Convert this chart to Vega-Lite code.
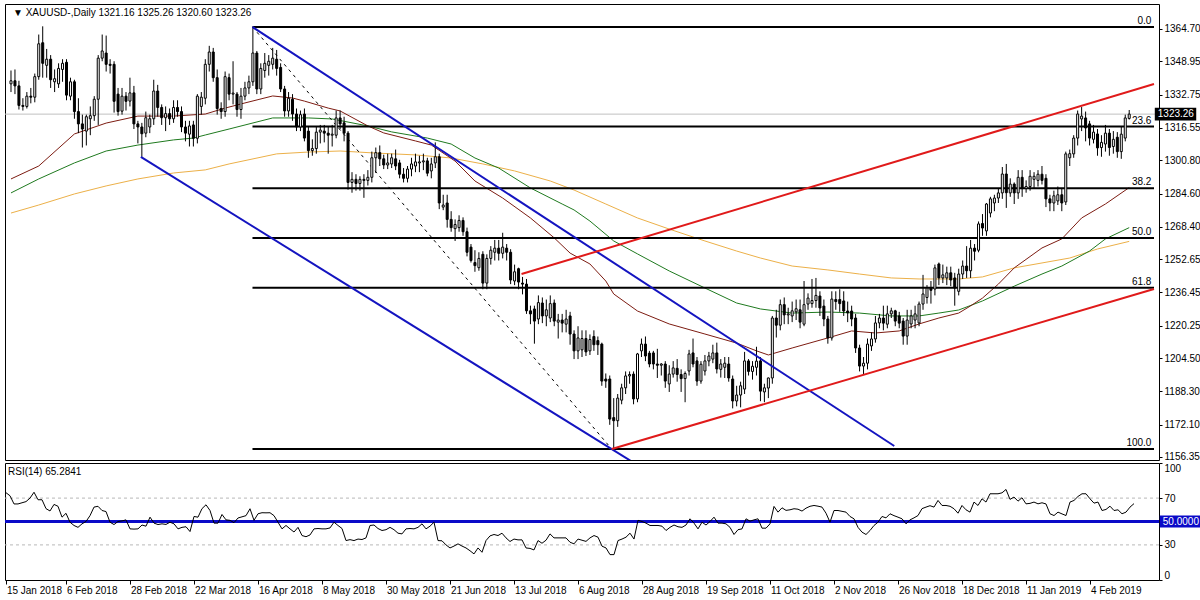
{
"$schema":"https://vega.github.io/schema/vega-lite/v6.json",
"padding":{"left":3,"top":3,"right":0,"bottom":0},
"background":"white",
"spacing":3,
"bounds":"flush",
"resolve":{"scale":{"x":"independent","y":"independent"}},
"config":{"view":{"stroke":"black","strokeWidth":1},"axis":{"labelFont":"Liberation Sans","labelFontSize":10,"labelColor":"black","tickColor":"black","domain":false,"grid":false,"labelOverlap":false},"text":{"font":"Liberation Sans","fontSize":10,"color":"black"}},
"datasets":{
"px":[
{"d":"2018-01-15","o":1338,"h":1344.5,"l":1334,"c":1339.5,"r":74.6,"sma50":1291.7,"sma100":1284.9,"sma200":1275.1},
{"d":"2018-01-16","o":1339.5,"h":1345,"l":1333,"c":1337,"r":72},
{"d":"2018-01-17","o":1337,"h":1339.5,"l":1325.5,"c":1327.5,"r":65},
{"d":"2018-01-18","o":1327.5,"h":1331,"l":1325,"c":1327,"r":65},
{"d":"2018-01-19","o":1327,"h":1334,"l":1326,"c":1332,"r":66},
{"d":"2018-01-22","o":1332,"h":1336,"l":1328.5,"c":1331.5,"r":67},
{"d":"2018-01-23","o":1331.5,"h":1343,"l":1329,"c":1341.5,"r":70},
{"d":"2018-01-24","o":1341.5,"h":1362,"l":1340,"c":1357.5,"r":75,"sma50":1298,"sma100":1291.7,"sma200":1279},
{"d":"2018-01-25","o":1358,"h":1366,"l":1341,"c":1348,"r":68.6},
{"d":"2018-01-26","o":1347,"h":1355,"l":1341,"c":1350,"r":68.6},
{"d":"2018-01-29","o":1350,"h":1352,"l":1336,"c":1340,"r":61},
{"d":"2018-01-30","o":1339,"h":1345,"l":1334,"c":1340.5,"r":59},
{"d":"2018-01-31","o":1338,"h":1348,"l":1336,"c":1345.5,"r":64.6},
{"d":"2018-02-01","o":1345,"h":1350,"l":1339,"c":1348,"r":63},
{"d":"2018-02-02","o":1348.5,"h":1350,"l":1330,"c":1332.5,"r":53.7},
{"d":"2018-02-05","o":1332,"h":1341,"l":1330,"c":1339,"r":57},
{"d":"2018-02-06","o":1339,"h":1340,"l":1321,"c":1324.5,"r":49.4,"sma50":1313.6,"sma100":1299.5,"sma200":1284.4},
{"d":"2018-02-07","o":1324.5,"h":1331,"l":1314,"c":1318.5,"r":46.6},
{"d":"2018-02-08","o":1318.5,"h":1323,"l":1307,"c":1316,"r":45},
{"d":"2018-02-09","o":1315,"h":1323,"l":1308,"c":1322,"r":48},
{"d":"2018-02-12","o":1321,"h":1327,"l":1313,"c":1322.5,"r":50},
{"d":"2018-02-13","o":1322.5,"h":1332,"l":1320,"c":1330.5,"r":55},
{"d":"2018-02-14","o":1330.5,"h":1352,"l":1318,"c":1350.5,"r":62.3},
{"d":"2018-02-15","o":1350.5,"h":1362,"l":1349,"c":1354,"r":63},
{"d":"2018-02-16","o":1353,"h":1361.5,"l":1344,"c":1347.5,"r":59.4,"sma50":1318.9,"sma100":1305.3,"sma200":1288.3},
{"d":"2018-02-19","o":1347.5,"h":1350,"l":1343,"c":1347,"r":58.5},
{"d":"2018-02-20","o":1347.5,"h":1349,"l":1324,"c":1329.5,"r":49.4},
{"d":"2018-02-21","o":1333,"h":1336,"l":1322.5,"c":1324.5,"r":47.4},
{"d":"2018-02-22","o":1324.7,"h":1336,"l":1323,"c":1332,"r":50},
{"d":"2018-02-23","o":1332,"h":1334,"l":1325,"c":1329.5,"r":50.5},
{"d":"2018-02-26","o":1329.6,"h":1341,"l":1327,"c":1333.6,"r":51.4},
{"d":"2018-02-27","o":1333.6,"h":1337,"l":1316,"c":1318.5,"r":43.7},
{"d":"2018-02-28","o":1318.5,"h":1320,"l":1309,"c":1317,"r":43.5,"sma50":1322.3,"sma100":1308.2,"sma200":1291.7},
{"d":"2018-03-01","o":1317,"h":1319,"l":1302.5,"c":1313.7,"r":43.7},
{"d":"2018-03-02","o":1314,"h":1324.5,"l":1312,"c":1321.5,"r":47},
{"d":"2018-03-05","o":1317,"h":1323,"l":1314,"c":1321,"r":46},
{"d":"2018-03-06","o":1321,"h":1340,"l":1318,"c":1334.5,"r":53.7},
{"d":"2018-03-07","o":1334.5,"h":1337.5,"l":1322,"c":1326.5,"r":48.6},
{"d":"2018-03-08","o":1326.5,"h":1328,"l":1318,"c":1321.5,"r":47.4},
{"d":"2018-03-09","o":1321.5,"h":1327,"l":1315,"c":1323.5,"r":48},
{"d":"2018-03-12","o":1323.5,"h":1326,"l":1318,"c":1321,"r":47.5},
{"d":"2018-03-13","o":1321,"h":1330,"l":1319,"c":1326.5,"r":49.4,"sma50":1322.3,"sma100":1310.7,"sma200":1294.6},
{"d":"2018-03-14","o":1326.5,"h":1330,"l":1322,"c":1324.5,"r":48},
{"d":"2018-03-15","o":1324.5,"h":1327,"l":1314.5,"c":1317,"r":43.7},
{"d":"2018-03-16","o":1317,"h":1320,"l":1310,"c":1314,"r":45},
{"d":"2018-03-19","o":1313.5,"h":1320,"l":1307.5,"c":1317.5,"r":45.5},
{"d":"2018-03-20","o":1318,"h":1320,"l":1307.5,"c":1311.5,"r":41.4,"sma100":1311.6},
{"d":"2018-03-21","o":1311.5,"h":1333,"l":1309,"c":1332,"r":54.3},
{"d":"2018-03-22","o":1327,"h":1334,"l":1323,"c":1331.5,"r":53.7},
{"d":"2018-03-23","o":1331,"h":1350,"l":1328,"c":1347.5,"r":61,"sma50":1323.3,"sma100":1313.1,"sma200":1296.1},
{"d":"2018-03-26","o":1347.5,"h":1356.5,"l":1344,"c":1353.5,"r":64.3},
{"d":"2018-03-27","o":1353.5,"h":1355.5,"l":1339,"c":1341,"r":59.4},
{"d":"2018-03-28","o":1341,"h":1345,"l":1323,"c":1326,"r":48.6},
{"d":"2018-03-29","o":1326,"h":1329,"l":1321,"c":1324.5,"r":48.6},
{"d":"2018-04-02","o":1324.5,"h":1344,"l":1322,"c":1341.5,"r":56,"sma50":1326.2},
{"d":"2018-04-03","o":1341,"h":1343,"l":1330,"c":1333,"r":51.4,"sma100":1316,"sma200":1299},
{"d":"2018-04-04","o":1333,"h":1349,"l":1328,"c":1333.5,"r":51},
{"d":"2018-04-05","o":1333,"h":1334,"l":1322,"c":1325.5,"r":49},
{"d":"2018-04-06","o":1325.5,"h":1336,"l":1321,"c":1332,"r":53},
{"d":"2018-04-09","o":1332,"h":1339,"l":1330,"c":1336,"r":54,"sma50":1328.7},
{"d":"2018-04-10","o":1336,"h":1342,"l":1333,"c":1339,"r":55},
{"d":"2018-04-11","o":1339,"h":1365.5,"l":1337,"c":1353,"r":60.9},
{"d":"2018-04-12","o":1353,"h":1354,"l":1333,"c":1335.5,"r":51},
{"d":"2018-04-13","o":1335.5,"h":1348,"l":1333,"c":1345.5,"r":56.6},
{"d":"2018-04-16","o":1344.5,"h":1353,"l":1341,"c":1348,"r":57.5},
{"d":"2018-04-17","o":1347,"h":1352,"l":1342,"c":1349,"r":57.4},
{"d":"2018-04-18","o":1347.5,"h":1355.5,"l":1345,"c":1350.5,"r":57.5,"sma50":1332.1,"sma100":1321.4},
{"d":"2018-04-19","o":1350,"h":1354.5,"l":1342,"c":1345.5,"r":55,"sma200":1303.9},
{"d":"2018-04-20","o":1346,"h":1348,"l":1334,"c":1335.5,"r":49.4},
{"d":"2018-04-23","o":1335.5,"h":1337,"l":1322,"c":1324.8,"r":43.7},
{"d":"2018-04-24","o":1324.8,"h":1334,"l":1322,"c":1331,"r":46.6},
{"d":"2018-04-25","o":1330.5,"h":1333,"l":1320,"c":1323.3,"r":43.7,"sma50":1331.1},
{"d":"2018-04-26","o":1323.3,"h":1326,"l":1315,"c":1317,"r":41},
{"d":"2018-04-27","o":1317,"h":1325,"l":1315,"c":1323,"r":45},
{"d":"2018-04-30","o":1323.3,"h":1326,"l":1310,"c":1311.6,"r":38,"sma50":1329.6},
{"d":"2018-05-01","o":1315,"h":1317,"l":1302,"c":1305.5,"r":37,"sma100":1321.4,"sma200":1304.8},
{"d":"2018-05-02","o":1305.5,"h":1311,"l":1303,"c":1306.5,"r":38.5},
{"d":"2018-05-03","o":1306.5,"h":1317,"l":1304,"c":1314.5,"r":43.7},
{"d":"2018-05-04","o":1314.5,"h":1318,"l":1309,"c":1315.5,"r":44},
{"d":"2018-05-07","o":1315,"h":1318,"l":1309.5,"c":1314,"r":43.7},
{"d":"2018-05-08","o":1314,"h":1317,"l":1304,"c":1313,"r":43.7,"sma50":1326.2},
{"d":"2018-05-09","o":1313,"h":1318,"l":1307.5,"c":1313.5,"r":44.5,"sma100":1320.9},
{"d":"2018-05-10","o":1313,"h":1325,"l":1311.5,"c":1321.4,"r":49.4},
{"d":"2018-05-11","o":1321.4,"h":1325,"l":1316,"c":1318.5,"r":46.6,"sma50":1324.8,"sma200":1305.3},
{"d":"2018-05-14","o":1319,"h":1322,"l":1310,"c":1314,"r":44},
{"d":"2018-05-15","o":1314,"h":1315,"l":1286.5,"c":1290,"r":33.7},
{"d":"2018-05-16","o":1290,"h":1295,"l":1285,"c":1291.5,"r":34.5},
{"d":"2018-05-17","o":1291.5,"h":1294,"l":1286,"c":1289.5,"r":33.7},
{"d":"2018-05-18","o":1289.5,"h":1293,"l":1286,"c":1291.5,"r":35},
{"d":"2018-05-21","o":1291.5,"h":1294,"l":1282.5,"c":1291,"r":34.6},
{"d":"2018-05-22","o":1291,"h":1296,"l":1288.5,"c":1292.5,"r":36,"sma50":1317.5,"sma100":1317.5},
{"d":"2018-05-23","o":1292.5,"h":1305,"l":1290,"c":1302,"r":46.6},
{"d":"2018-05-24","o":1302,"h":1307,"l":1294.6,"c":1304.5,"r":47,"sma200":1304.3},
{"d":"2018-05-25","o":1304.5,"h":1308,"l":1298,"c":1301.5,"r":44},
{"d":"2018-05-28","o":1301.5,"h":1303.5,"l":1296.5,"c":1298.5,"r":42.3,"sma50":1314.1},
{"d":"2018-05-29","o":1298.5,"h":1304,"l":1296.5,"c":1299.5,"r":43},
{"d":"2018-05-30","o":1299,"h":1304,"l":1297,"c":1302,"r":45,"sma100":1314.6},
{"d":"2018-05-31","o":1301.5,"h":1306,"l":1296,"c":1298,"r":43},
{"d":"2018-06-01","o":1299.5,"h":1301,"l":1292,"c":1294,"r":40},
{"d":"2018-06-04","o":1294,"h":1297,"l":1290,"c":1292,"r":39.4},
{"d":"2018-06-05","o":1292,"h":1298,"l":1290,"c":1296.5,"r":43.7},
{"d":"2018-06-06","o":1296.5,"h":1302,"l":1293,"c":1299,"r":44},
{"d":"2018-06-07","o":1298,"h":1304,"l":1295,"c":1300,"r":43.7,"sma50":1310.2,"sma200":1303.4},
{"d":"2018-06-08","o":1299.5,"h":1303,"l":1295,"c":1300,"r":45},
{"d":"2018-06-11","o":1300,"h":1304,"l":1296,"c":1300.5,"r":48},
{"d":"2018-06-12","o":1300.5,"h":1302,"l":1293,"c":1294.5,"r":43.7,"sma100":1311.6},
{"d":"2018-06-13","o":1295.6,"h":1302,"l":1292,"c":1299,"r":46,"sma50":1308.2},
{"d":"2018-06-14","o":1299.5,"h":1309.5,"l":1297,"c":1302.5,"r":49.4},
{"d":"2018-06-15","o":1302.5,"h":1304,"l":1277,"c":1280,"r":33.7},
{"d":"2018-06-18","o":1278,"h":1284,"l":1276.5,"c":1279,"r":33.5},
{"d":"2018-06-19","o":1280,"h":1284,"l":1268,"c":1272,"r":30},
{"d":"2018-06-20","o":1272,"h":1276,"l":1266,"c":1268,"r":27.4,"sma100":1308.7,"sma200":1301.9},
{"d":"2018-06-21","o":1267.5,"h":1272,"l":1261.5,"c":1269.5,"r":29,"sma50":1300.4},
{"d":"2018-06-22","o":1268,"h":1274,"l":1266,"c":1271.5,"r":30.9},
{"d":"2018-06-25","o":1271.5,"h":1273,"l":1264,"c":1266,"r":29},
{"d":"2018-06-26","o":1266,"h":1268,"l":1254,"c":1256,"r":27.4},
{"d":"2018-06-27","o":1258.5,"h":1260,"l":1251,"c":1252,"r":25},
{"d":"2018-06-28","o":1251,"h":1257,"l":1246.5,"c":1249.5,"r":22.3,"sma50":1290.7,"sma100":1301.9},
{"d":"2018-06-29","o":1248.5,"h":1256,"l":1247,"c":1253,"r":27.4},
{"d":"2018-07-02","o":1255,"h":1256.5,"l":1238,"c":1241,"r":23.7,"sma200":1299},
{"d":"2018-07-03","o":1241,"h":1255,"l":1238,"c":1253,"r":33.7},
{"d":"2018-07-04","o":1253,"h":1259,"l":1250,"c":1257,"r":37.7},
{"d":"2018-07-05","o":1256,"h":1262,"l":1252,"c":1258,"r":38.9},
{"d":"2018-07-06","o":1258,"h":1262,"l":1252,"c":1255.5,"r":38,"sma100":1297},
{"d":"2018-07-09","o":1255.5,"h":1265.5,"l":1253,"c":1258.5,"r":40,"sma50":1282.4},
{"d":"2018-07-10","o":1258,"h":1260,"l":1252,"c":1256,"r":36},
{"d":"2018-07-11","o":1256,"h":1257.5,"l":1240.5,"c":1242.5,"r":32.9},
{"d":"2018-07-12","o":1242,"h":1250,"l":1240,"c":1246.5,"r":35,"sma200":1295.6},
{"d":"2018-07-13","o":1248,"h":1248.5,"l":1238,"c":1241.5,"r":34.3},
{"d":"2018-07-16","o":1241,"h":1244,"l":1235.5,"c":1240.5,"r":34.3},
{"d":"2018-07-17","o":1240.5,"h":1243,"l":1226,"c":1227.5,"r":27.4},
{"d":"2018-07-18","o":1227.5,"h":1230,"l":1221,"c":1226,"r":27,"sma50":1272.7,"sma100":1287.3},
{"d":"2018-07-19","o":1228.4,"h":1230,"l":1211.5,"c":1222.5,"r":25.7},
{"d":"2018-07-20","o":1223.5,"h":1235,"l":1221,"c":1231.5,"r":33.7},
{"d":"2018-07-23","o":1231.3,"h":1234,"l":1221.5,"c":1225,"r":31.4},
{"d":"2018-07-24","o":1225,"h":1233,"l":1220,"c":1228,"r":34},
{"d":"2018-07-25","o":1224,"h":1235,"l":1222,"c":1231,"r":39.4,"sma200":1290.7},
{"d":"2018-07-26","o":1231.3,"h":1233,"l":1220,"c":1222.5,"r":36,"sma50":1263},
{"d":"2018-07-27","o":1222,"h":1226,"l":1214,"c":1223,"r":36},
{"d":"2018-07-30","o":1223,"h":1226,"l":1217,"c":1221.5,"r":36,"sma100":1279.5},
{"d":"2018-07-31","o":1221,"h":1228,"l":1217,"c":1223.5,"r":36},
{"d":"2018-08-01","o":1225,"h":1227,"l":1211,"c":1216.2,"r":32.3,"sma50":1255.6},
{"d":"2018-08-02","o":1216.2,"h":1218,"l":1204,"c":1208,"r":30.9,"sma100":1276.6,"sma200":1286.3},
{"d":"2018-08-03","o":1208,"h":1220,"l":1204,"c":1214.3,"r":35},
{"d":"2018-08-06","o":1208.5,"h":1218,"l":1205,"c":1214,"r":34},
{"d":"2018-08-07","o":1214,"h":1218,"l":1205.5,"c":1207.5,"r":33},
{"d":"2018-08-08","o":1208,"h":1216,"l":1206,"c":1213.5,"r":36,"sma50":1250.3,"sma100":1271.2},
{"d":"2018-08-09","o":1215,"h":1218,"l":1208,"c":1211,"r":38},
{"d":"2018-08-10","o":1213,"h":1215,"l":1206,"c":1211,"r":36.6},
{"d":"2018-08-13","o":1211.3,"h":1212,"l":1191,"c":1193.3,"r":28.9},
{"d":"2018-08-14","o":1194.3,"h":1197,"l":1190,"c":1193.3,"r":27.4,"sma50":1242,"sma200":1279.5},
{"d":"2018-08-15","o":1194.3,"h":1196,"l":1172,"c":1174.8,"r":21.7},
{"d":"2018-08-16","o":1175.5,"h":1185,"l":1160.4,"c":1174,"r":21.7,"sma50":1235.7,"sma100":1261.5},
{"d":"2018-08-17","o":1174,"h":1187,"l":1171,"c":1185,"r":33.7},
{"d":"2018-08-20","o":1184,"h":1192,"l":1182,"c":1190,"r":35},
{"d":"2018-08-21","o":1190,"h":1198,"l":1187,"c":1195.8,"r":36.6},
{"d":"2018-08-22","o":1195.8,"h":1198,"l":1192,"c":1196.5,"r":40},
{"d":"2018-08-23","o":1196.7,"h":1198,"l":1182,"c":1184.6,"r":35},
{"d":"2018-08-24","o":1184.6,"h":1207,"l":1183,"c":1206.5,"r":51,"sma50":1227.4,"sma100":1255.2,"sma200":1272.7},
{"d":"2018-08-27","o":1208,"h":1214,"l":1205,"c":1211.3,"r":50},
{"d":"2018-08-28","o":1211.3,"h":1215,"l":1203,"c":1205.5,"r":48.6},
{"d":"2018-08-29","o":1206.9,"h":1208,"l":1200,"c":1201.6,"r":46.6},
{"d":"2018-08-30","o":1207,"h":1208,"l":1199,"c":1201.6,"r":46.6},
{"d":"2018-08-31","o":1201.6,"h":1209,"l":1194.8,"c":1201,"r":46.6},
{"d":"2018-09-03","o":1201,"h":1202,"l":1196,"c":1201.6,"r":46},
{"d":"2018-09-04","o":1201.6,"h":1203,"l":1190,"c":1193.3,"r":42.3},
{"d":"2018-09-05","o":1191.9,"h":1201,"l":1188,"c":1196.7,"r":45,"sma50":1221.1,"sma100":1246.9,"sma200":1267.3},
{"d":"2018-09-06","o":1196.7,"h":1203,"l":1195,"c":1199.7,"r":47},
{"d":"2018-09-07","o":1199.5,"h":1204,"l":1193,"c":1196.5,"r":45.5},
{"d":"2018-09-10","o":1196.5,"h":1199,"l":1188,"c":1194.5,"r":45},
{"d":"2018-09-11","o":1194.5,"h":1198,"l":1183,"c":1197,"r":47},
{"d":"2018-09-12","o":1198.2,"h":1208.5,"l":1196,"c":1206.5,"r":52.3},
{"d":"2018-09-13","o":1207,"h":1214,"l":1200,"c":1201.6,"r":48.6},
{"d":"2018-09-14","o":1203.1,"h":1205,"l":1191,"c":1193.3,"r":43.7},
{"d":"2018-09-17","o":1193.3,"h":1203,"l":1192,"c":1201.5,"r":49.4},
{"d":"2018-09-18","o":1198.2,"h":1206,"l":1196,"c":1203.1,"r":47,"sma50":1216.2,"sma100":1238.6,"sma200":1261.5},
{"d":"2018-09-19","o":1203.1,"h":1207.5,"l":1200.5,"c":1205.5,"r":50},
{"d":"2018-09-20","o":1204,"h":1211,"l":1202,"c":1207,"r":53.7},
{"d":"2018-09-21","o":1207,"h":1212,"l":1197,"c":1199.2,"r":48.6},
{"d":"2018-09-24","o":1199,"h":1204,"l":1195,"c":1201.6,"r":48.6},
{"d":"2018-09-25","o":1200,"h":1205,"l":1194.8,"c":1202,"r":48},
{"d":"2018-09-26","o":1201.6,"h":1205,"l":1193,"c":1194.8,"r":45},
{"d":"2018-09-27","o":1194.3,"h":1196,"l":1180,"c":1183.6,"r":38.9},
{"d":"2018-09-28","o":1183.6,"h":1191,"l":1181,"c":1186.5,"r":43,"sma50":1211.8,"sma100":1231.3,"sma200":1256.6},
{"d":"2018-10-01","o":1186.5,"h":1193,"l":1180.5,"c":1191,"r":43.7},
{"d":"2018-10-02","o":1189.4,"h":1207.5,"l":1187,"c":1203.1,"r":52.3},
{"d":"2018-10-03","o":1203.1,"h":1204,"l":1196,"c":1198,"r":50.3},
{"d":"2018-10-04","o":1198,"h":1203,"l":1194,"c":1200.5,"r":51.4},
{"d":"2018-10-05","o":1200,"h":1210,"l":1196,"c":1203,"r":52.3,"sma50":1208},
{"d":"2018-10-08","o":1203.1,"h":1205,"l":1183.5,"c":1188.4,"r":44.3,"sma100":1228.4,"sma200":1253.2},
{"d":"2018-10-09","o":1188,"h":1192,"l":1183,"c":1190,"r":44.3},
{"d":"2018-10-10","o":1189.9,"h":1195,"l":1185,"c":1194.8,"r":48,"sma50":1206},
{"d":"2018-10-11","o":1194.8,"h":1225,"l":1192,"c":1224,"r":62.9},
{"d":"2018-10-12","o":1224,"h":1228,"l":1214.5,"c":1220.5,"r":58},
{"d":"2018-10-15","o":1220.5,"h":1233,"l":1218,"c":1230.5,"r":61.7},
{"d":"2018-10-16","o":1230.5,"h":1234,"l":1221,"c":1225.5,"r":59.5},
{"d":"2018-10-17","o":1225.5,"h":1229,"l":1221,"c":1226,"r":60},
{"d":"2018-10-18","o":1225,"h":1232,"l":1222,"c":1227.5,"r":60.9,"sma50":1209.4,"sma100":1226.4,"sma200":1249.3},
{"d":"2018-10-19","o":1227,"h":1233,"l":1223,"c":1228.5,"r":60.5},
{"d":"2018-10-22","o":1228,"h":1233,"l":1219,"c":1222,"r":58.9},
{"d":"2018-10-23","o":1221,"h":1242,"l":1220,"c":1230.5,"r":61.4},
{"d":"2018-10-24","o":1230.8,"h":1236,"l":1228,"c":1233.7,"r":63},
{"d":"2018-10-25","o":1231,"h":1243,"l":1229,"c":1232.5,"r":63.7},
{"d":"2018-10-26","o":1232.5,"h":1243.5,"l":1229,"c":1235,"r":63.1},
{"d":"2018-10-29","o":1234.7,"h":1237,"l":1225,"c":1228.9,"r":62.3},
{"d":"2018-10-30","o":1229.8,"h":1233,"l":1220,"c":1223.5,"r":57.1},
{"d":"2018-10-31","o":1223.5,"h":1225,"l":1211.5,"c":1214.3,"r":49.4,"sma50":1214.3,"sma100":1226.9,"sma200":1247.4},
{"d":"2018-11-01","o":1214.3,"h":1237,"l":1213,"c":1233.2,"r":59.4},
{"d":"2018-11-02","o":1233,"h":1237,"l":1228,"c":1232,"r":59.4},
{"d":"2018-11-05","o":1233,"h":1238,"l":1227,"c":1231,"r":58.7},
{"d":"2018-11-06","o":1232.3,"h":1237,"l":1225,"c":1227.4,"r":58},
{"d":"2018-11-07","o":1227.4,"h":1232,"l":1222,"c":1226.5,"r":54.3},
{"d":"2018-11-08","o":1227.4,"h":1230,"l":1220,"c":1223.5,"r":52.3,"sma50":1217.7},
{"d":"2018-11-09","o":1224,"h":1226,"l":1207,"c":1209.4,"r":45},
{"d":"2018-11-12","o":1209.4,"h":1211,"l":1198,"c":1200.6,"r":40.9,"sma100":1226.4,"sma200":1245.4},
{"d":"2018-11-13","o":1200.6,"h":1205,"l":1196.5,"c":1202,"r":38.9},
{"d":"2018-11-14","o":1202,"h":1214,"l":1199,"c":1211.3,"r":42.3},
{"d":"2018-11-15","o":1210.4,"h":1217,"l":1208,"c":1213.8,"r":46.6},
{"d":"2018-11-16","o":1213.8,"h":1225,"l":1212,"c":1221.6,"r":49.4,"sma50":1216.7},
{"d":"2018-11-19","o":1221.6,"h":1226,"l":1219,"c":1224,"r":54.3},
{"d":"2018-11-20","o":1224,"h":1230,"l":1218,"c":1221.5,"r":53.1},
{"d":"2018-11-21","o":1221,"h":1230,"l":1219,"c":1226,"r":56.6},
{"d":"2018-11-22","o":1226,"h":1229,"l":1224,"c":1227.5,"r":55,"sma100":1225,"sma200":1243.5},
{"d":"2018-11-23","o":1227.5,"h":1228,"l":1220,"c":1222.5,"r":53.7},
{"d":"2018-11-26","o":1225,"h":1227,"l":1219,"c":1221.5,"r":52.3,"sma50":1217.7},
{"d":"2018-11-27","o":1222.5,"h":1224,"l":1211,"c":1215.2,"r":48},
{"d":"2018-11-28","o":1215.2,"h":1228,"l":1211,"c":1223,"r":51.4},
{"d":"2018-11-29","o":1221.1,"h":1228,"l":1219,"c":1225,"r":53.1},
{"d":"2018-11-30","o":1223,"h":1230,"l":1219,"c":1226,"r":55.1},
{"d":"2018-12-03","o":1221.6,"h":1232,"l":1220,"c":1230.8,"r":61,"sma50":1221.1,"sma100":1225,"sma200":1243},
{"d":"2018-12-04","o":1230.8,"h":1245,"l":1228,"c":1235.7,"r":62.3},
{"d":"2018-12-05","o":1234,"h":1240,"l":1231,"c":1238.5,"r":63.5},
{"d":"2018-12-06","o":1238.5,"h":1242,"l":1231,"c":1237.5,"r":62.3},
{"d":"2018-12-07","o":1238.1,"h":1250,"l":1235,"c":1248.4,"r":68},
{"d":"2018-12-10","o":1250.3,"h":1251,"l":1240,"c":1243.5,"r":63.7,"sma50":1224,"sma100":1226.4},
{"d":"2018-12-11","o":1243.5,"h":1250,"l":1241,"c":1245,"r":63.7},
{"d":"2018-12-12","o":1243.5,"h":1249,"l":1240,"c":1246,"r":63},
{"d":"2018-12-13","o":1246,"h":1249,"l":1239.5,"c":1242.5,"r":60.9},
{"d":"2018-12-14","o":1243.5,"h":1246,"l":1230,"c":1238.6,"r":57.1},
{"d":"2018-12-17","o":1237,"h":1248,"l":1235,"c":1245.4,"r":63.7,"sma50":1226.4,"sma100":1227.9,"sma200":1243},
{"d":"2018-12-18","o":1245.4,"h":1252,"l":1243,"c":1249.3,"r":60},
{"d":"2018-12-19","o":1249.3,"h":1259,"l":1243.5,"c":1247,"r":58},
{"d":"2018-12-20","o":1247,"h":1262,"l":1243.5,"c":1258,"r":66.6,"sma50":1229.9},
{"d":"2018-12-21","o":1258,"h":1260,"l":1252,"c":1256.5,"r":63.7},
{"d":"2018-12-24","o":1257,"h":1271,"l":1256,"c":1269.8,"r":69.4},
{"d":"2018-12-26","o":1270,"h":1274.6,"l":1264,"c":1267.8,"r":66.6,"sma50":1233.7,"sma100":1232.3,"sma200":1244},
{"d":"2018-12-27","o":1266.4,"h":1280,"l":1264,"c":1279.5,"r":73.7},
{"d":"2018-12-28","o":1275.1,"h":1283,"l":1273,"c":1282,"r":73.7},
{"d":"2018-12-31","o":1280,"h":1284,"l":1276,"c":1282.4,"r":73.7},
{"d":"2019-01-02","o":1282.4,"h":1287,"l":1280,"c":1284.9,"r":74.5,"sma50":1240.5},
{"d":"2019-01-03","o":1284.9,"h":1297.5,"l":1282,"c":1294.1,"r":77.4},
{"d":"2019-01-04","o":1294.1,"h":1299,"l":1277.6,"c":1285,"r":68.9},
{"d":"2019-01-07","o":1284.9,"h":1292,"l":1283,"c":1289.2,"r":70.9},
{"d":"2019-01-08","o":1289.2,"h":1290,"l":1279.5,"c":1284.9,"r":67.4,"sma50":1248.4,"sma100":1239.5,"sma200":1248.4},
{"d":"2019-01-09","o":1284.9,"h":1296,"l":1282,"c":1292.5,"r":70.3},
{"d":"2019-01-10","o":1292.5,"h":1296,"l":1283,"c":1287,"r":65.1},
{"d":"2019-01-11","o":1287,"h":1291,"l":1285,"c":1288,"r":65.5},
{"d":"2019-01-14","o":1288,"h":1296,"l":1286,"c":1293,"r":66.6},
{"d":"2019-01-15","o":1291.5,"h":1295,"l":1287,"c":1293,"r":65.1},
{"d":"2019-01-16","o":1291,"h":1296,"l":1288,"c":1294,"r":66},
{"d":"2019-01-17","o":1294,"h":1298,"l":1289,"c":1291,"r":65,"sma50":1258.1,"sma100":1245.4,"sma200":1250.8},
{"d":"2019-01-18","o":1292,"h":1294,"l":1278,"c":1282,"r":56.6},
{"d":"2019-01-21","o":1282,"h":1284,"l":1276,"c":1280,"r":55.1},
{"d":"2019-01-22","o":1280,"h":1286,"l":1276,"c":1283.5,"r":58},
{"d":"2019-01-23","o":1281,"h":1288,"l":1279,"c":1284,"r":56.5},
{"d":"2019-01-24","o":1284,"h":1287,"l":1276,"c":1280,"r":55.1,"sma50":1262.5,"sma100":1249.3},
{"d":"2019-01-25","o":1280.5,"h":1305,"l":1279,"c":1303.9,"r":66.6},
{"d":"2019-01-28","o":1302,"h":1306,"l":1298,"c":1304,"r":68,"sma200":1253.2},
{"d":"2019-01-29","o":1303.9,"h":1313,"l":1302,"c":1311.6,"r":71.4},
{"d":"2019-01-30","o":1311.6,"h":1325,"l":1308,"c":1323.3,"r":73.7},
{"d":"2019-01-31","o":1320.9,"h":1326.7,"l":1315,"c":1322.3,"r":73.7,"sma50":1272.7},
{"d":"2019-02-01","o":1321.4,"h":1324.5,"l":1310,"c":1316.5,"r":69.4},
{"d":"2019-02-04","o":1318.5,"h":1320,"l":1308,"c":1311.6,"r":65.7,"sma100":1256.6},
{"d":"2019-02-05","o":1311,"h":1318,"l":1309,"c":1314.5,"r":66.6},
{"d":"2019-02-06","o":1313.6,"h":1316,"l":1303,"c":1306.8,"r":59.4,"sma200":1257.6},
{"d":"2019-02-07","o":1307,"h":1313,"l":1302.5,"c":1309.5,"r":60.3},
{"d":"2019-02-08","o":1308.7,"h":1318,"l":1305,"c":1314,"r":63.1,"sma50":1279.5,"sma100":1262.5},
{"d":"2019-02-11","o":1314,"h":1316,"l":1303,"c":1307,"r":59.4},
{"d":"2019-02-12","o":1307.5,"h":1315,"l":1304,"c":1311,"r":60},
{"d":"2019-02-13","o":1312,"h":1314.5,"l":1302,"c":1305,"r":56.6},
{"d":"2019-02-14","o":1305,"h":1317,"l":1301.5,"c":1313.5,"r":58},
{"d":"2019-02-15","o":1311.6,"h":1323,"l":1310,"c":1321.4,"r":62.3},
{"d":"2019-02-18","o":1321.16,"h":1325.26,"l":1320.6,"c":1323.26,"r":65.2841,"sma50":1287.5,"sma100":1268,"sma200":1261.3}
],
"fib":[{"lv":"0.0","p":1365.7},{"lv":"23.6","p":1317.2},{"lv":"38.2","p":1287.2},{"lv":"50.0","p":1262.95},{"lv":"61.8","p":1238.7},{"lv":"100.0","p":1160.2}],
"trend":[{"id":"b1","n":61.9,"p":1365.7},{"id":"b1","n":223.75,"p":1161.7},{"id":"b2","n":33.75,"p":1302.4},{"id":"b2","n":161,"p":1150.0},{"id":"r1","n":129.75,"p":1245.4},{"id":"r1","n":289.25,"p":1337.9},{"id":"r2","n":152.5,"p":1160.2},{"id":"r2","n":289.25,"p":1238.1}],
"diag":[{"n":61.9,"p":1365.7},{"n":152.5,"p":1160.2}]
},
"vconcat":[
{"width":1154,"height":456,
"layer":[
{"data":{"values":[{"p":1323.26}]},"mark":{"type":"rule","color":"#c0c0c0","strokeWidth":1},
 "encoding":{"y":{"field":"p","type":"quantitative","title":null,"scale":{"domain":[1154.87,1376.87],"nice":false,"zero":false},
  "axis":{"orient":"right","values":[1156.35,1172.1,1188.3,1204.5,1220.25,1236.45,1252.65,1268.4,1284.6,1300.8,1316.55,1332.75,1348.95,1364.7],"tickCount":100,"format":".2f","tickSize":3,"labelPadding":2,"labelFlush":false,"labelOverlap":false}}}},
{"data":{"name":"px"},"transform":[{"window":[{"op":"row_number","as":"n"}]},{"filter":{"field":"sma200","valid":true}}],
 "mark":{"type":"line","color":"#ecb048","strokeWidth":1},
 "encoding":{"x":{"field":"n","type":"quantitative","title":null,"scale":{"domain":[0.75,289.25],"nice":false,"zero":false},"axis":null},
  "y":{"field":"sma200","type":"quantitative","title":null,"scale":{"domain":[1154.87,1376.87],"nice":false,"zero":false}}}},
{"data":{"name":"px"},"transform":[{"window":[{"op":"row_number","as":"n"}]},{"filter":{"field":"sma100","valid":true}}],
 "mark":{"type":"line","color":"#1f7a1f","strokeWidth":1},
 "encoding":{"x":{"field":"n","type":"quantitative","title":null,"scale":{"domain":[0.75,289.25],"nice":false,"zero":false},"axis":null},
  "y":{"field":"sma100","type":"quantitative","title":null,"scale":{"domain":[1154.87,1376.87],"nice":false,"zero":false}}}},
{"data":{"name":"px"},"transform":[{"window":[{"op":"row_number","as":"n"}]},{"filter":{"field":"sma50","valid":true}}],
 "mark":{"type":"line","color":"#7d1c12","strokeWidth":1},
 "encoding":{"x":{"field":"n","type":"quantitative","title":null,"scale":{"domain":[0.75,289.25],"nice":false,"zero":false},"axis":null},
  "y":{"field":"sma50","type":"quantitative","title":null,"scale":{"domain":[1154.87,1376.87],"nice":false,"zero":false}}}},
{"data":{"name":"diag"},"mark":{"type":"line","color":"black","strokeWidth":1,"strokeDash":[3,4]},
 "encoding":{"x":{"field":"n","type":"quantitative","title":null,"scale":{"domain":[0.75,289.25],"nice":false,"zero":false},"axis":null},
  "y":{"field":"p","type":"quantitative","title":null,"scale":{"domain":[1154.87,1376.87],"nice":false,"zero":false}}}},
{"data":{"name":"fib"},"mark":{"type":"rule","color":"black","strokeWidth":2},
 "encoding":{"x":{"datum":61.9,"type":"quantitative","title":null,"scale":{"domain":[0.75,289.25],"nice":false,"zero":false},"axis":null},"x2":{"datum":289.25},
  "y":{"field":"p","type":"quantitative","title":null,"scale":{"domain":[1154.87,1376.87],"nice":false,"zero":false}}}},
{"data":{"name":"fib"},"mark":{"type":"text","align":"right","baseline":"bottom","dy":-1,"fontSize":10},
 "encoding":{"x":{"datum":288.6,"type":"quantitative","title":null,"scale":{"domain":[0.75,289.25],"nice":false,"zero":false},"axis":null},
  "y":{"field":"p","type":"quantitative","title":null,"scale":{"domain":[1154.87,1376.87],"nice":false,"zero":false}},"text":{"field":"lv"}}},
{"data":{"name":"px"},"transform":[{"window":[{"op":"row_number","as":"n"}]}],
 "mark":{"type":"rule","color":"black","strokeWidth":1},
 "encoding":{"x":{"field":"n","type":"quantitative","title":null,"scale":{"domain":[0.75,289.25],"nice":false,"zero":false},"axis":null},
  "y":{"field":"l","type":"quantitative","title":null,"scale":{"domain":[1154.87,1376.87],"nice":false,"zero":false}},"y2":{"field":"h"}}},
{"data":{"name":"px"},"transform":[{"window":[{"op":"row_number","as":"n"}]}],
 "mark":{"type":"bar","orient":"vertical","width":2,"stroke":"black","strokeWidth":1},
 "encoding":{"x":{"field":"n","type":"quantitative","title":null,"scale":{"domain":[0.75,289.25],"nice":false,"zero":false},"axis":null},
  "y":{"field":"o","type":"quantitative","title":null,"scale":{"domain":[1154.87,1376.87],"nice":false,"zero":false}},"y2":{"field":"c"},
  "fill":{"condition":{"test":"datum.c >= datum.o","value":"white"},"value":"black"}}},
{"data":{"name":"trend"},"mark":{"type":"line","strokeWidth":2,"clip":true},
 "encoding":{"x":{"field":"n","type":"quantitative","title":null,"scale":{"domain":[0.75,289.25],"nice":false,"zero":false},"axis":null},
  "y":{"field":"p","type":"quantitative","title":null,"scale":{"domain":[1154.87,1376.87],"nice":false,"zero":false}},
  "color":{"field":"id","type":"nominal","scale":{"domain":["b1","b2","r1","r2"],"range":["#1414c0","#1414c0","#e01a1a","#e01a1a"]},"legend":null}}},
{"data":{"values":[{"t":"▼ XAUUSD-,Daily  1321.16 1325.26 1320.60 1323.26"}]},"mark":{"type":"text","align":"left","baseline":"middle","fontSize":10},
 "encoding":{"x":{"datum":1.5,"type":"quantitative","title":null,"scale":{"domain":[0.75,289.25],"nice":false,"zero":false},"axis":null},
  "y":{"datum":1372.5,"type":"quantitative","title":null,"scale":{"domain":[1154.87,1376.87],"nice":false,"zero":false}},"text":{"field":"t"}}},
{"data":{"values":[{"p":1323.26}]},"mark":{"type":"rect","color":"black"},
 "encoding":{"x":{"datum":289.45,"type":"quantitative","title":null,"scale":{"domain":[0.75,289.25],"nice":false,"zero":false},"axis":null},"x2":{"datum":299.9},
  "y":{"datum":1320.2,"type":"quantitative","title":null,"scale":{"domain":[1154.87,1376.87],"nice":false,"zero":false}},"y2":{"datum":1326.3}}},
{"data":{"values":[{"p":1323.26}]},"mark":{"type":"text","align":"left","baseline":"middle","color":"white","fontSize":10},
 "encoding":{"x":{"datum":290.2,"type":"quantitative","title":null,"scale":{"domain":[0.75,289.25],"nice":false,"zero":false},"axis":null},
  "y":{"field":"p","type":"quantitative","title":null,"scale":{"domain":[1154.87,1376.87],"nice":false,"zero":false}},"text":{"field":"p","format":".2f"}}}
]},
{"width":1154,"height":117,
"layer":[
{"data":{"values":[{"v":70},{"v":30}]},"mark":{"type":"rule","color":"#b8b8b8","strokeWidth":1,"strokeDash":[3,3]},
 "encoding":{"y":{"field":"v","type":"quantitative","title":null,"scale":{"domain":[0,100],"nice":false,"zero":false},
  "axis":{"orient":"right","values":[0,30,70,100],"tickCount":100,"tickSize":3,"labelPadding":2,"labelFlush":true,"labelOverlap":false}}}},
{"data":{"values":[{"v":50}]},"mark":{"type":"rule","color":"#0a0ac8","strokeWidth":3},
 "encoding":{"y":{"field":"v","type":"quantitative","title":null,"scale":{"domain":[0,100],"nice":false,"zero":false}}}},
{"data":{"name":"px"},"transform":[{"window":[{"op":"row_number","as":"n"}]}],
 "mark":{"type":"line","color":"black","strokeWidth":1},
 "encoding":{"x":{"field":"n","type":"quantitative","title":null,"scale":{"domain":[0.75,289.25],"nice":false,"zero":false},
   "axis":{"orient":"bottom","values":[1.1,16.1,32.1,48.1,64.1,80.1,96.1,112.1,128.1,144.1,160.1,176.1,192.1,208.1,224.1,240.1,256.1,272.1],"tickCount":100,"labelExpr":"['15 Jan 2018','6 Feb 2018','28 Feb 2018','22 Mar 2018','16 Apr 2018','8 May 2018','30 May 2018','21 Jun 2018','13 Jul 2018','6 Aug 2018','28 Aug 2018','19 Sep 2018','11 Oct 2018','2 Nov 2018','26 Nov 2018','18 Dec 2018','11 Jan 2019','4 Feb 2019'][round((datum.value-0.1)/16)]","labelAlign":"left","labelFlush":false,"labelOverlap":false,"tickSize":4,"labelPadding":1}},
  "y":{"field":"r","type":"quantitative","title":null,"scale":{"domain":[0,100],"nice":false,"zero":false}}}},
{"data":{"values":[{"t":"RSI(14) 65.2841"}]},"mark":{"type":"text","align":"left","baseline":"middle","fontSize":10},
 "encoding":{"x":{"datum":1.5,"type":"quantitative","title":null,"scale":{"domain":[0.75,289.25],"nice":false,"zero":false}},
  "y":{"datum":92,"type":"quantitative","title":null,"scale":{"domain":[0,100],"nice":false,"zero":false}},"text":{"field":"t"}}},
{"data":{"values":[{"v":50}]},"mark":{"type":"rect","color":"#0a0ac8"},
 "encoding":{"x":{"datum":289.45,"type":"quantitative","title":null,"scale":{"domain":[0.75,289.25],"nice":false,"zero":false}},"x2":{"datum":299.9},
  "y":{"datum":44.8,"type":"quantitative","title":null,"scale":{"domain":[0,100],"nice":false,"zero":false}},"y2":{"datum":55.2}}},
{"data":{"values":[{"v":50}]},"mark":{"type":"text","align":"left","baseline":"middle","color":"white","fontSize":10},
 "encoding":{"x":{"datum":290.2,"type":"quantitative","title":null,"scale":{"domain":[0.75,289.25],"nice":false,"zero":false}},
  "y":{"field":"v","type":"quantitative","title":null,"scale":{"domain":[0,100],"nice":false,"zero":false}},"text":{"field":"v","format":".4f"}}}
]}
]
}
